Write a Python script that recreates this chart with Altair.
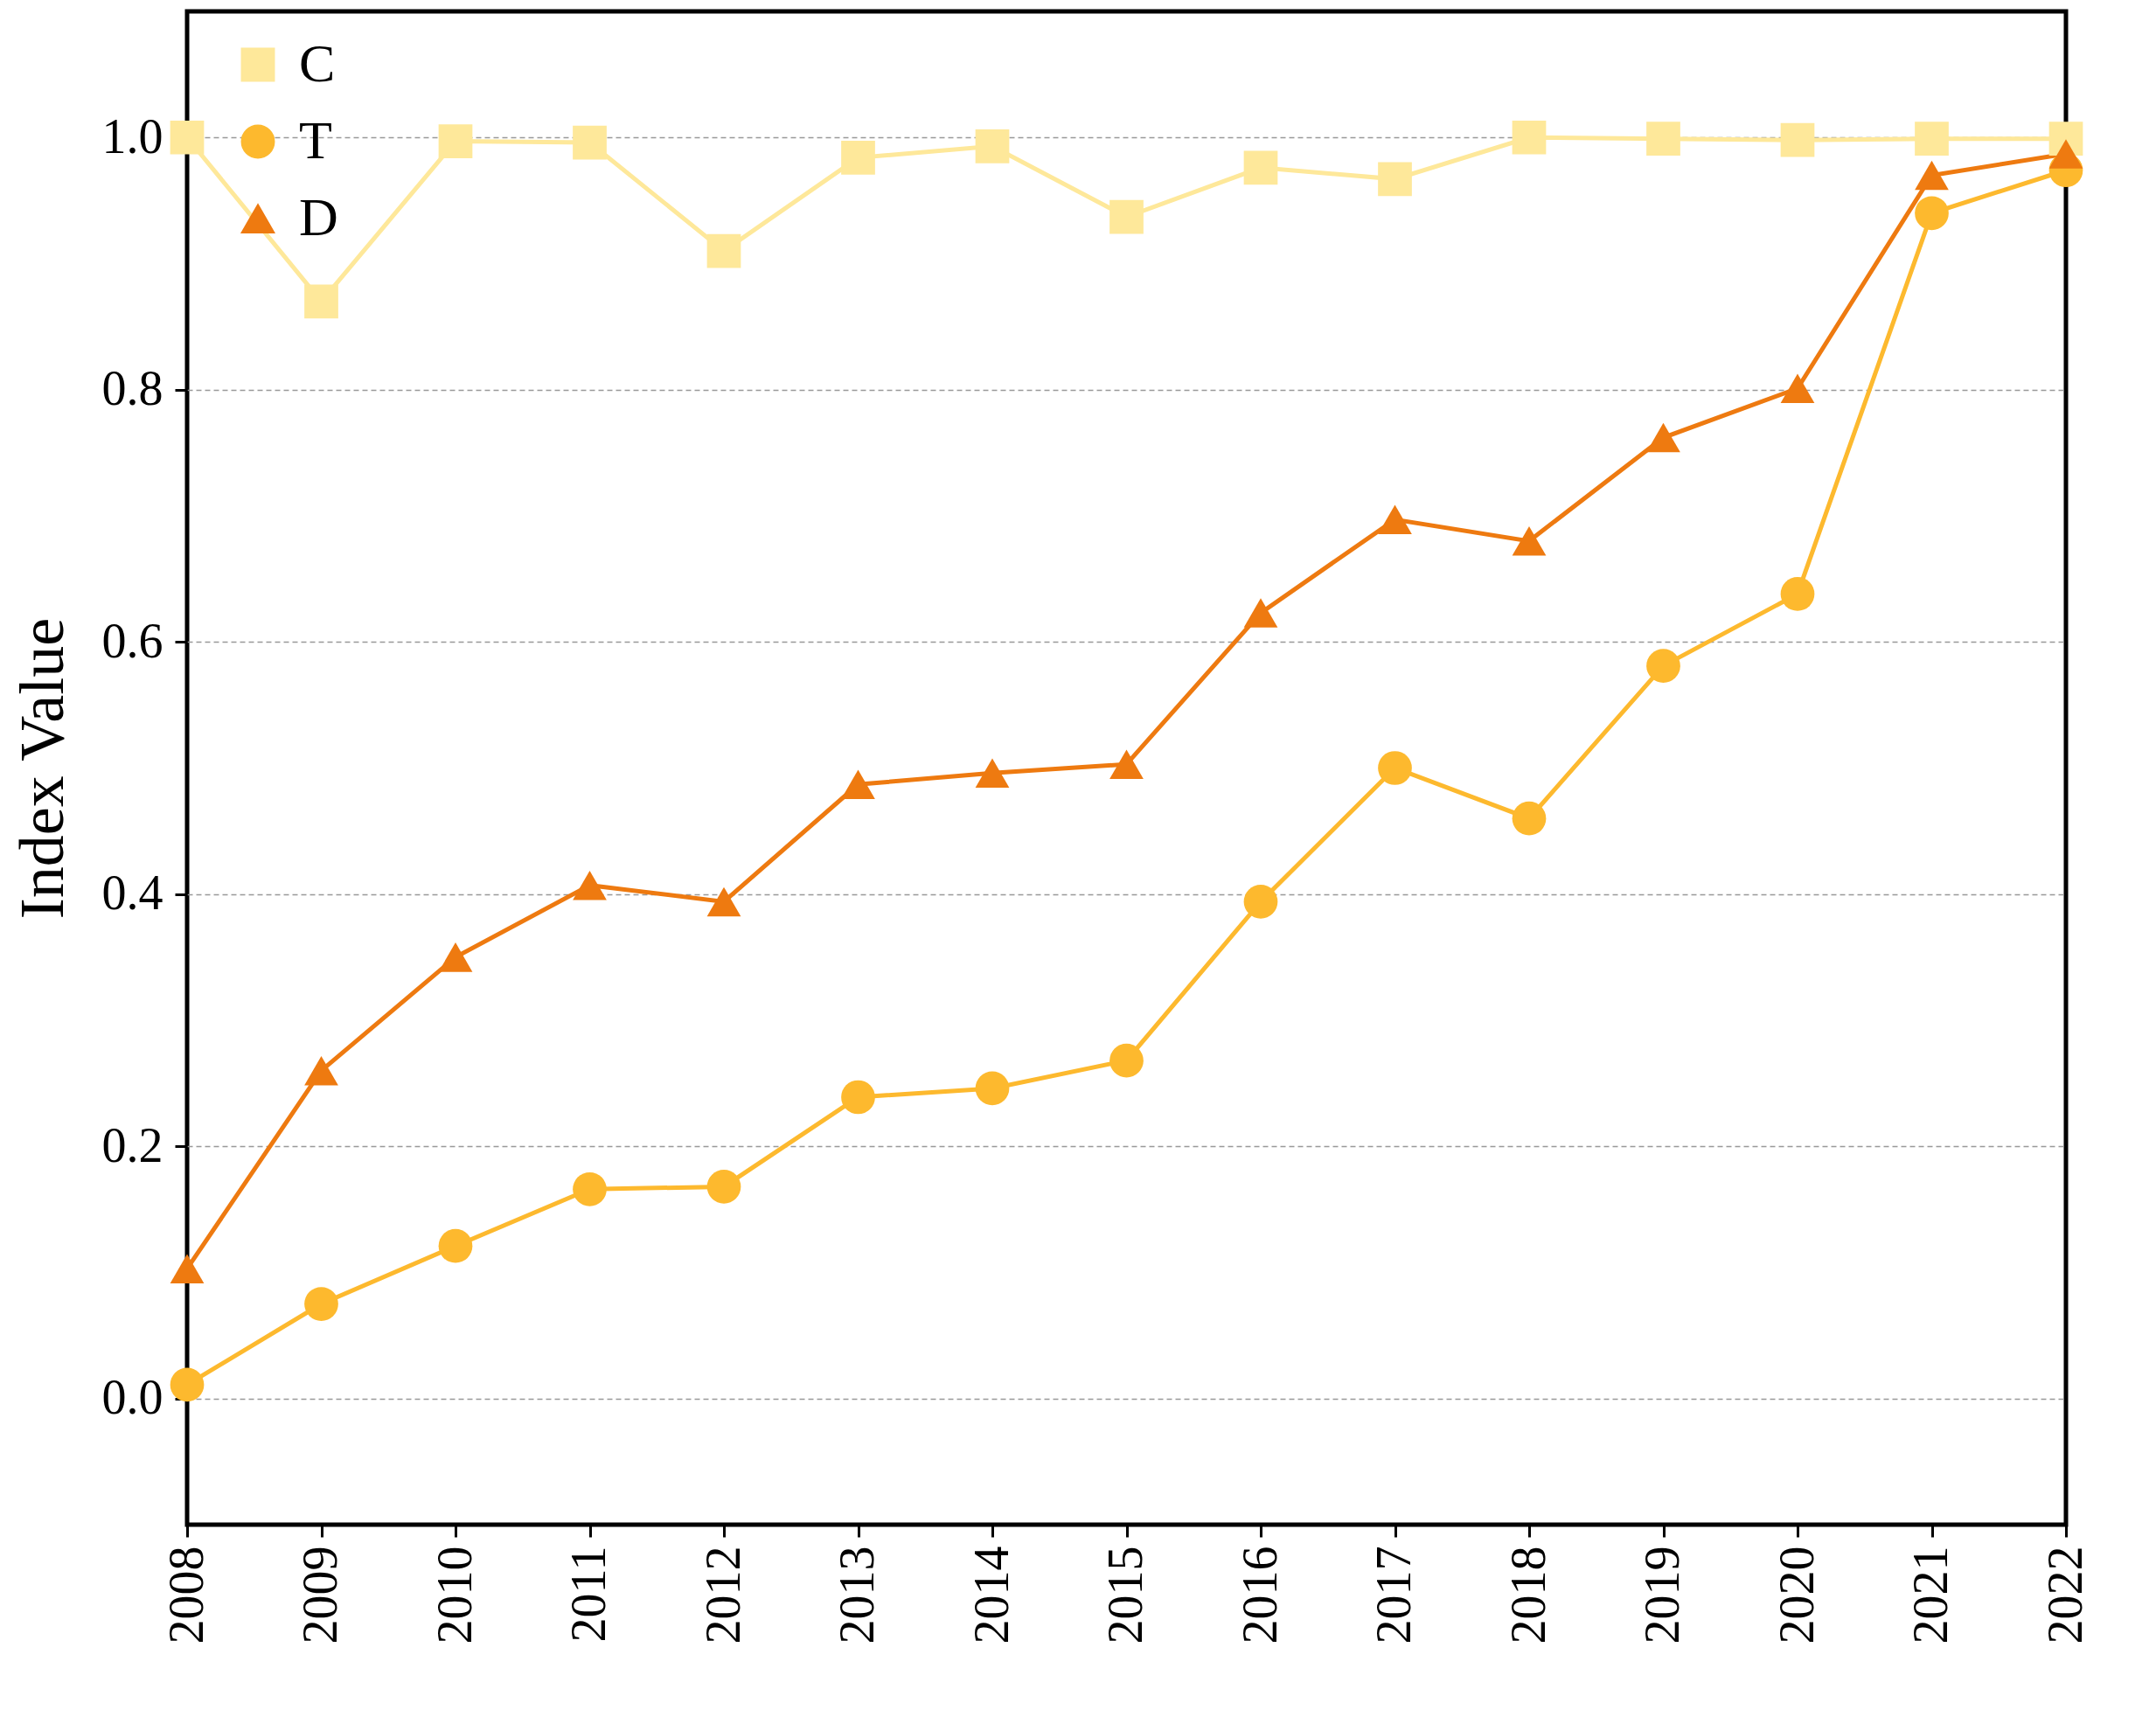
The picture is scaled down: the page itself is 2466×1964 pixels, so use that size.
import altair as alt
import pandas as pd

years = list(range(2008, 2023))
c_vals = [1.0, 0.87, 0.997, 0.996, 0.91, 0.984, 0.993, 0.937, 0.976, 0.967, 1.0, 0.999, 0.998, 0.999, 0.999]
t_vals = [0.011, 0.075, 0.121, 0.166, 0.168, 0.239, 0.246, 0.268, 0.394, 0.5, 0.46, 0.581, 0.638, 0.94, 0.974]
d_vals = [0.103, 0.26, 0.35, 0.407, 0.394, 0.487, 0.496, 0.503, 0.623, 0.697, 0.68, 0.762, 0.801, 0.97, 0.987]

series = ["C", "T", "D"]
colors = ["#FEE89A", "#FDB92E", "#EE7A10"]
shapes = ["square", "circle", "triangle-up"]

rows = []
for name, vals in zip(series, [c_vals, t_vals, d_vals]):
    for y, v in zip(years, vals):
        rows.append({"Year": y, "Value": v, "Series": name})
df = pd.DataFrame(rows)

font = "Liberation Serif"

x = alt.X("Year:Q", scale=alt.Scale(domain=[2008, 2022], nice=False),
          axis=alt.Axis(values=years, format="d", labelAngle=-90, labelFontSize=56,
                        labelFont=font, labelColor="black", tickColor="black",
                        tickSize=14, tickWidth=3, domain=False, grid=False,
                        title=None, labelPadding=10, labelBaseline="middle", labelAlign="right"))
y = alt.Y("Value:Q", scale=alt.Scale(domain=[-0.1, 1.1], nice=False),
          axis=alt.Axis(values=[0, 0.2, 0.4, 0.6, 0.8, 1.0], format=".1f", labelFontSize=56,
                        labelFont=font, labelColor="black", tickColor="black",
                        tickSize=14, tickWidth=3, domain=False, grid=True,
                        gridDash=[6, 4], gridColor="#999999", gridWidth=1.5,
                        title="Index Value", titleFont=font, titleFontSize=72,
                        titleFontWeight="normal", titleColor="black", titlePadding=30,
                        labelPadding=14))
color = alt.Color("Series:N", scale=alt.Scale(domain=series, range=colors),
                  legend=alt.Legend(orient="none", legendX=50, legendY=30, title=None,
                                    labelFont=font, labelFontSize=62, symbolSize=1400,
                                    rowPadding=26, labelOffset=16,
                                    labelColor="black"))
shape = alt.Shape("Series:N", scale=alt.Scale(domain=series, range=shapes), legend=None)

base = alt.Chart(df)
lines = base.mark_line(strokeWidth=5).encode(x=x, y=y, color=color, detail="Series:N")
points = base.mark_point(filled=True, size=1500, opacity=1).encode(
    x=x, y=y, color=alt.Color("Series:N", scale=alt.Scale(domain=series, range=colors), legend=None),
    shape=shape)

chart = (lines + points).properties(width=2149, height=1731).configure(
    background="white"
).configure_view(stroke="black", strokeWidth=5)

chart.save("out.html", embed_options={"renderer": "svg", "actions": False})
